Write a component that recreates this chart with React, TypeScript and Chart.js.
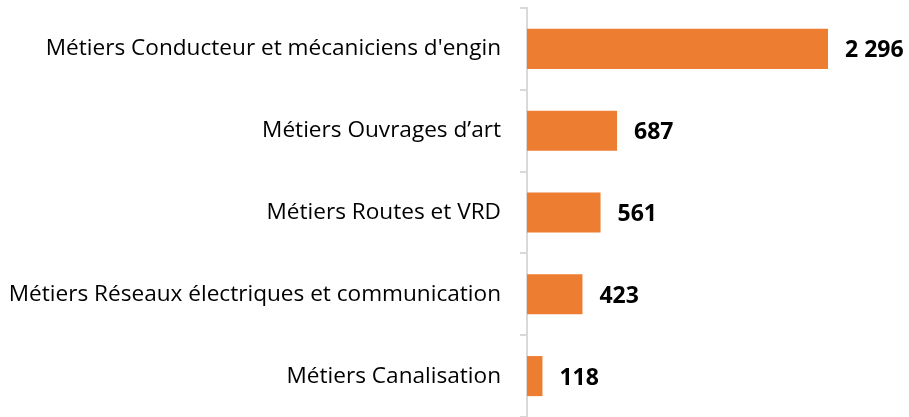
import React, { useEffect, useRef } from "react";
import { Chart, registerables } from "chart.js";

Chart.register(...registerables);

const categories = [
  "Métiers Conducteur et mécaniciens d'engin",
  "Métiers Ouvrages d’art",
  "Métiers Routes et VRD",
  "Métiers Réseaux électriques et communication",
  "Métiers Canalisation",
];
const values = [2296, 687, 561, 423, 118];
const valueLabels = ["2 296", "687", "561", "423", "118"];

const FONT = "'Open Sans', 'Noto Sans', sans-serif";

const valueLabelPlugin = {
  id: "valueLabels",
  afterDatasetsDraw(chart: any) {
    const { ctx } = chart;
    const meta = chart.getDatasetMeta(0);
    ctx.save();
    ctx.font = `bold 23px ${FONT}`;
    ctx.fillStyle = "#000000";
    ctx.textAlign = "left";
    ctx.textBaseline = "middle";
    meta.data.forEach((bar: any, i: number) => {
      ctx.fillText(valueLabels[i], bar.x + 17, bar.y + 2);
    });
    ctx.restore();
  },
};

export default function App() {
  const ref = useRef<HTMLCanvasElement | null>(null);
  useEffect(() => {
    if (!ref.current) return;
    const chart = new Chart(ref.current, {
      type: "bar",
      data: {
        labels: categories,
        datasets: [
          {
            data: values,
            backgroundColor: "#ED7D31",
            barPercentage: 0.49,
            categoryPercentage: 1,
          },
        ],
      },
      options: {
        indexAxis: "y",
        animation: false,
        responsive: true,
        maintainAspectRatio: false,
        layout: { padding: { top: 8, right: 81, bottom: 0, left: 0 } },
        plugins: { legend: { display: false }, tooltip: { enabled: false } },
        scales: {
          x: { display: false, min: 0, max: 2296 },
          y: {
            afterFit(scale: any) {
              scale.width = 527;
              scale.paddingTop = 0;
              scale.paddingBottom = 0;
            },
            border: { display: true, color: "#D9D9D9", width: 2 },
            grid: {
              display: true,
              drawOnChartArea: false,
              drawTicks: true,
              tickLength: 7,
              color: "#D9D9D9",
              lineWidth: 2,
              offset: true,
            },
            ticks: {
              color: "#000000",
              padding: 19,
              font: { family: FONT, size: 22.6 },
            },
          },
        },
      },
      plugins: [valueLabelPlugin],
    });
    return () => chart.destroy();
  }, []);
  return (
    <div style={{ position: "fixed", left: 0, top: 0, width: 909, height: 417 }}>
      <canvas ref={ref} />
    </div>
  );
}
